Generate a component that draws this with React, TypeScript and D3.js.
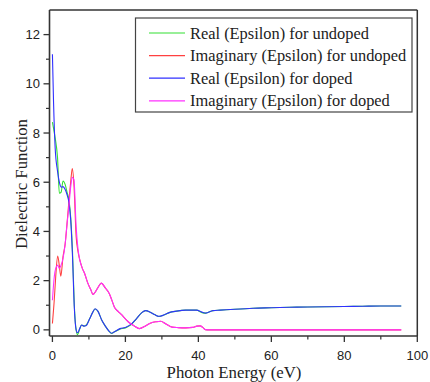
import React from "react";
import * as d3 from "d3";

const realEnergy = [0, 0.3, 0.75, 1.4, 1.9, 2.4, 2.9, 3.5, 4.0, 4.5, 5.0, 5.5, 6.0, 6.5, 6.9, 7.4, 8.0, 8.6, 9.3, 10.2, 11.0, 11.7, 12.5, 13.5, 14.5, 15.5, 16.2, 17.0, 18.5, 20, 21.5, 23, 24.5, 25.5, 26.8, 28, 29.2, 30.5, 32, 34, 36.5, 39.5, 41, 42, 44, 46, 50, 55, 60, 65, 70, 75, 80, 85, 90, 95.6];
const realUndoped = [8.44, 8.2, 7.8, 7.0, 5.55, 5.6, 6.05, 5.9, 5.6, 5.3, 4.6, 3.2, 1.0, 0.0, -0.2, 0.0, 0.2, 0.15, 0.2, 0.45, 0.7, 0.85, 0.75, 0.4, 0.15, -0.05, -0.15, -0.08, 0.03, 0.08, 0.2, 0.45, 0.7, 0.78, 0.72, 0.62, 0.54, 0.6, 0.7, 0.76, 0.8, 0.8, 0.7, 0.68, 0.78, 0.8, 0.84, 0.88, 0.9, 0.92, 0.93, 0.94, 0.95, 0.96, 0.97, 0.97];
const realDoped = [11.2, 9.3, 7.4, 6.45, 6.0, 5.8, 5.82, 5.7, 5.5, 5.2, 4.5, 3.0, 0.9, 0.0, -0.12, 0.02, 0.2, 0.15, 0.18, 0.45, 0.7, 0.86, 0.75, 0.4, 0.15, -0.05, -0.14, -0.08, 0.05, 0.1, 0.22, 0.45, 0.7, 0.78, 0.72, 0.62, 0.55, 0.6, 0.7, 0.76, 0.8, 0.8, 0.72, 0.68, 0.78, 0.8, 0.84, 0.88, 0.9, 0.92, 0.93, 0.94, 0.95, 0.96, 0.97, 0.97];

const imagEnergy = [0, 0.5, 0.9, 1.45, 1.9, 2.3, 2.9, 3.5, 4.0, 4.5, 5.0, 5.45, 5.9, 6.5, 7.0, 7.5, 8.2, 8.8, 9.7, 10.6, 11.1, 11.8, 12.6, 13.4, 14.5, 15.6, 16.3, 17.0, 18.0, 18.8, 20, 21, 22.5, 23.8, 25.6, 27, 28.5, 29.7, 31, 32.8, 34.5, 36.5, 38.5, 39.6, 40.5, 41.2, 41.9, 43, 50, 60, 70, 80, 90, 95.6];
const imagUndoped = [0.26, 1.2, 2.15, 3.0, 2.6, 2.18, 2.97, 3.5, 4.3, 5.2, 6.0, 6.56, 5.9, 3.8, 3.2, 2.84, 2.5, 2.3, 1.9, 1.6, 1.44, 1.55, 1.75, 1.9, 1.7, 1.47, 1.2, 0.92, 0.75, 0.64, 0.45, 0.3, 0.15, 0.05, 0.17, 0.28, 0.33, 0.35, 0.25, 0.11, 0.09, 0.08, 0.1, 0.15, 0.16, 0.1, 0.01, 0, 0, 0, 0, 0, 0, 0];
const imagDoped = [1.2, 2.15, 2.5, 2.63, 2.5, 2.6, 2.9, 3.5, 4.3, 5.0, 5.8, 6.2, 6.1, 4.2, 3.3, 2.84, 2.5, 2.3, 1.9, 1.6, 1.44, 1.55, 1.75, 1.9, 1.7, 1.47, 1.2, 0.92, 0.75, 0.64, 0.45, 0.3, 0.15, 0.05, 0.17, 0.28, 0.33, 0.35, 0.25, 0.11, 0.09, 0.08, 0.1, 0.15, 0.16, 0.1, 0.01, 0, 0, 0, 0, 0, 0, 0];

const seriesNames = [
  "Real (Epsilon) for undoped",
  "Imaginary (Epsilon) for undoped",
  "Real (Epsilon) for doped",
  "Imaginary (Epsilon) for doped",
];
const seriesColors = ["#33e033", "#ff4040", "#3030ff", "#ff30ff"];
const xTicks = [0, 20, 40, 60, 80, 100];
const xMinorTicks = [10, 30, 50, 70, 90];
const yTicks = [0, 2, 4, 6, 8, 10, 12];
const yMinorTicks = [1, 3, 5, 7, 9, 11];

export default function App() {
  const W = 430, H = 382;
  const left = 49.5, right = 417.3, top = 10, bottom = 336;
  const x = d3.scaleLinear().domain([-0.8, 100]).range([left, right]);
  const y = d3.scaleLinear().domain([-0.25, 13]).range([bottom, top]);

  const line = d3
    .line<[number, number]>()
    .x((d) => x(d[0]))
    .y((d) => y(d[1]))
    .curve(d3.curveMonotoneX);

  const series = [
    { e: realEnergy, v: realUndoped },
    { e: imagEnergy, v: imagUndoped },
    { e: realEnergy, v: realDoped },
    { e: imagEnergy, v: imagDoped },
  ];

  const sans = "'Liberation Sans', Arial, sans-serif";
  const serif = "'Liberation Serif', 'Times New Roman', serif";

  return (
    <svg width={W} height={H} style={{ position: "absolute", left: 0, top: 0 }}>
      <rect x={0} y={0} width={W} height={H} fill="#fff" />
      {series.map((s, i) => (
        <path
          key={i}
          d={line(s.e.map((e, j) => [e, s.v[j]] as [number, number])) || ""}
          fill="none"
          stroke={seriesColors[i]}
          strokeWidth={1.1}
        />
      ))}
      {/* frame */}
      <line x1={left} x2={right} y1={top} y2={top} stroke="#333" strokeWidth={1.5} />
      <line x1={right} x2={right} y1={top} y2={bottom} stroke="#333" strokeWidth={1.5} />
      <line x1={left} x2={left} y1={top} y2={bottom} stroke="#333" strokeWidth={1.6} />
      <line x1={left} x2={right} y1={bottom} y2={bottom} stroke="#333" strokeWidth={1.6} />
      {/* x ticks */}
      {xTicks.map((t) => (
        <g key={"xt" + t}>
          <line x1={x(t)} x2={x(t)} y1={bottom} y2={bottom + 6} stroke="#333" strokeWidth={1.3} />
          <text x={x(t)} y={360} textAnchor="middle" fontFamily={sans} fontSize={13} fill="#222">
            {t}
          </text>
        </g>
      ))}
      {xMinorTicks.map((t) => (
        <line key={"xm" + t} x1={x(t)} x2={x(t)} y1={bottom} y2={bottom + 3.5} stroke="#333" strokeWidth={1.2} />
      ))}
      {/* y ticks */}
      {yTicks.map((t) => (
        <g key={"yt" + t}>
          <line x1={left - 6} x2={left} y1={y(t)} y2={y(t)} stroke="#333" strokeWidth={1.3} />
          <text x={40} y={y(t) + 4.5} textAnchor="end" fontFamily={sans} fontSize={13} fill="#222">
            {t}
          </text>
        </g>
      ))}
      {yMinorTicks.map((t) => (
        <line key={"ym" + t} x1={left - 3.5} x2={left} y1={y(t)} y2={y(t)} stroke="#333" strokeWidth={1.2} />
      ))}
      {/* axis labels */}
      <text x={234} y={378} textAnchor="middle" fontFamily={serif} fontSize={16.8} fill="#222">
        Photon Energy (eV)
      </text>
      <text
        transform={`translate(27,${184}) rotate(-90)`}
        textAnchor="middle"
        fontFamily={serif}
        fontSize={16.8}
        fill="#222"
      >
        Dielectric Function
      </text>
      {/* legend */}
      <rect x={135.5} y={18} width={276.5} height={94} fill="#fff" stroke="#444" strokeWidth={1.2} />
      {seriesNames.map((n, i) => (
        <g key={"lg" + i}>
          <line x1={149} x2={185} y1={33 + i * 22.6} y2={33 + i * 22.6} stroke={seriesColors[i]} strokeWidth={1.2} />
          <text x={190} y={33 + i * 22.6 + 5.5} fontFamily={serif} fontSize={16.4} fill="#222">
            {n}
          </text>
        </g>
      ))}
    </svg>
  );
}
